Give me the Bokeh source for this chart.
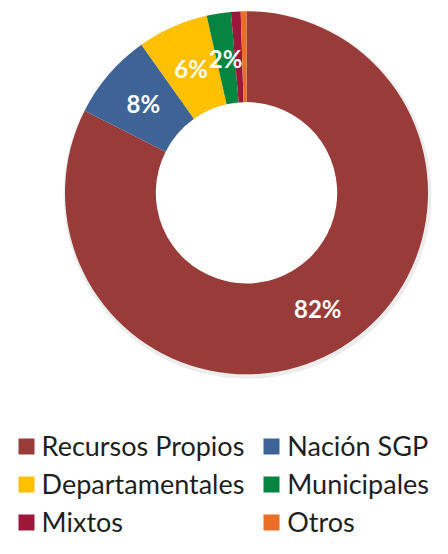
import numpy as np
from bokeh.plotting import figure
from bokeh.models import ColumnDataSource, Range1d, Legend, LegendItem
from bokeh.core.properties import value
from bokeh.embed import file_html
from bokeh.resources import INLINE

categories = ["Recursos Propios", "Nación SGP", "Departamentales", "Municipales", "Mixtos", "Otros"]
percent = [82.4, 7.7, 6.3, 2.15, 0.86, 0.51]
labels = ["82%", "8%", "6%", "2%", "", ""]
colors = ["#993B38", "#3E6397", "#FFC000", "#05853F", "#9C1739", "#EB6E24"]

W, H = 432, 538
cx, cy = 246.0, 345.7
r_out, r_in = 181.5, 90.7

vals = np.array(percent, dtype=float)
frac = vals / vals.sum()
cum = np.concatenate([[0.0], np.cumsum(frac)])
start = np.pi / 2 - 2 * np.pi * cum[:-1]
end = np.pi / 2 - 2 * np.pi * cum[1:]
mid = (start + end) / 2
r_mid = (r_out + r_in) / 2

src = ColumnDataSource(dict(
    cat=categories, start=start, end=end, color=colors,
    lx=cx + r_mid * np.cos(mid), ly=cy + r_mid * np.sin(mid), label=labels,
))

p = figure(width=W, height=H, output_backend="svg", toolbar_location=None,
           x_range=Range1d(0, W), y_range=Range1d(0, H), min_border=0)
p.axis.visible = False
p.grid.visible = False
p.outline_line_color = None
p.background_fill_color = "white"

# subtle drop shadow of the ring
p.annulus(x=cx + 1, y=cy - 2, inner_radius=r_out - 4, outer_radius=r_out + 2.5,
          fill_color="#000000", fill_alpha=0.07, line_color=None)

wr = p.annular_wedge(x=cx, y=cy, inner_radius=r_in, outer_radius=r_out,
                     start_angle="start", end_angle="end", direction="clock",
                     fill_color="color", line_color=None, source=src)

p.text(x="lx", y="ly", text="label", source=src, text_color="white",
       text_font=value("Lato"), text_font_style="bold", text_font_size="24px",
       text_align="center", text_baseline="middle")

def make_legend(idx, loc):
    lg = Legend(items=[LegendItem(label=categories[i], renderers=[wr], index=i) for i in idx],
                location=loc, orientation="vertical",
                glyph_width=20, glyph_height=20, label_standoff=6,
                label_text_font="Lato", label_text_font_size="27px",
                label_text_color="#1F1F1F", label_height=17, spacing=5,
                padding=0, margin=0, border_line_color=None,
                background_fill_alpha=0)
    p.add_layout(lg, "center")

make_legend([0, 2, 4], (15.6, 0))
make_legend([1, 3, 5], (261.3, 0))

open("out.html", "w").write(file_html(p, INLINE))
